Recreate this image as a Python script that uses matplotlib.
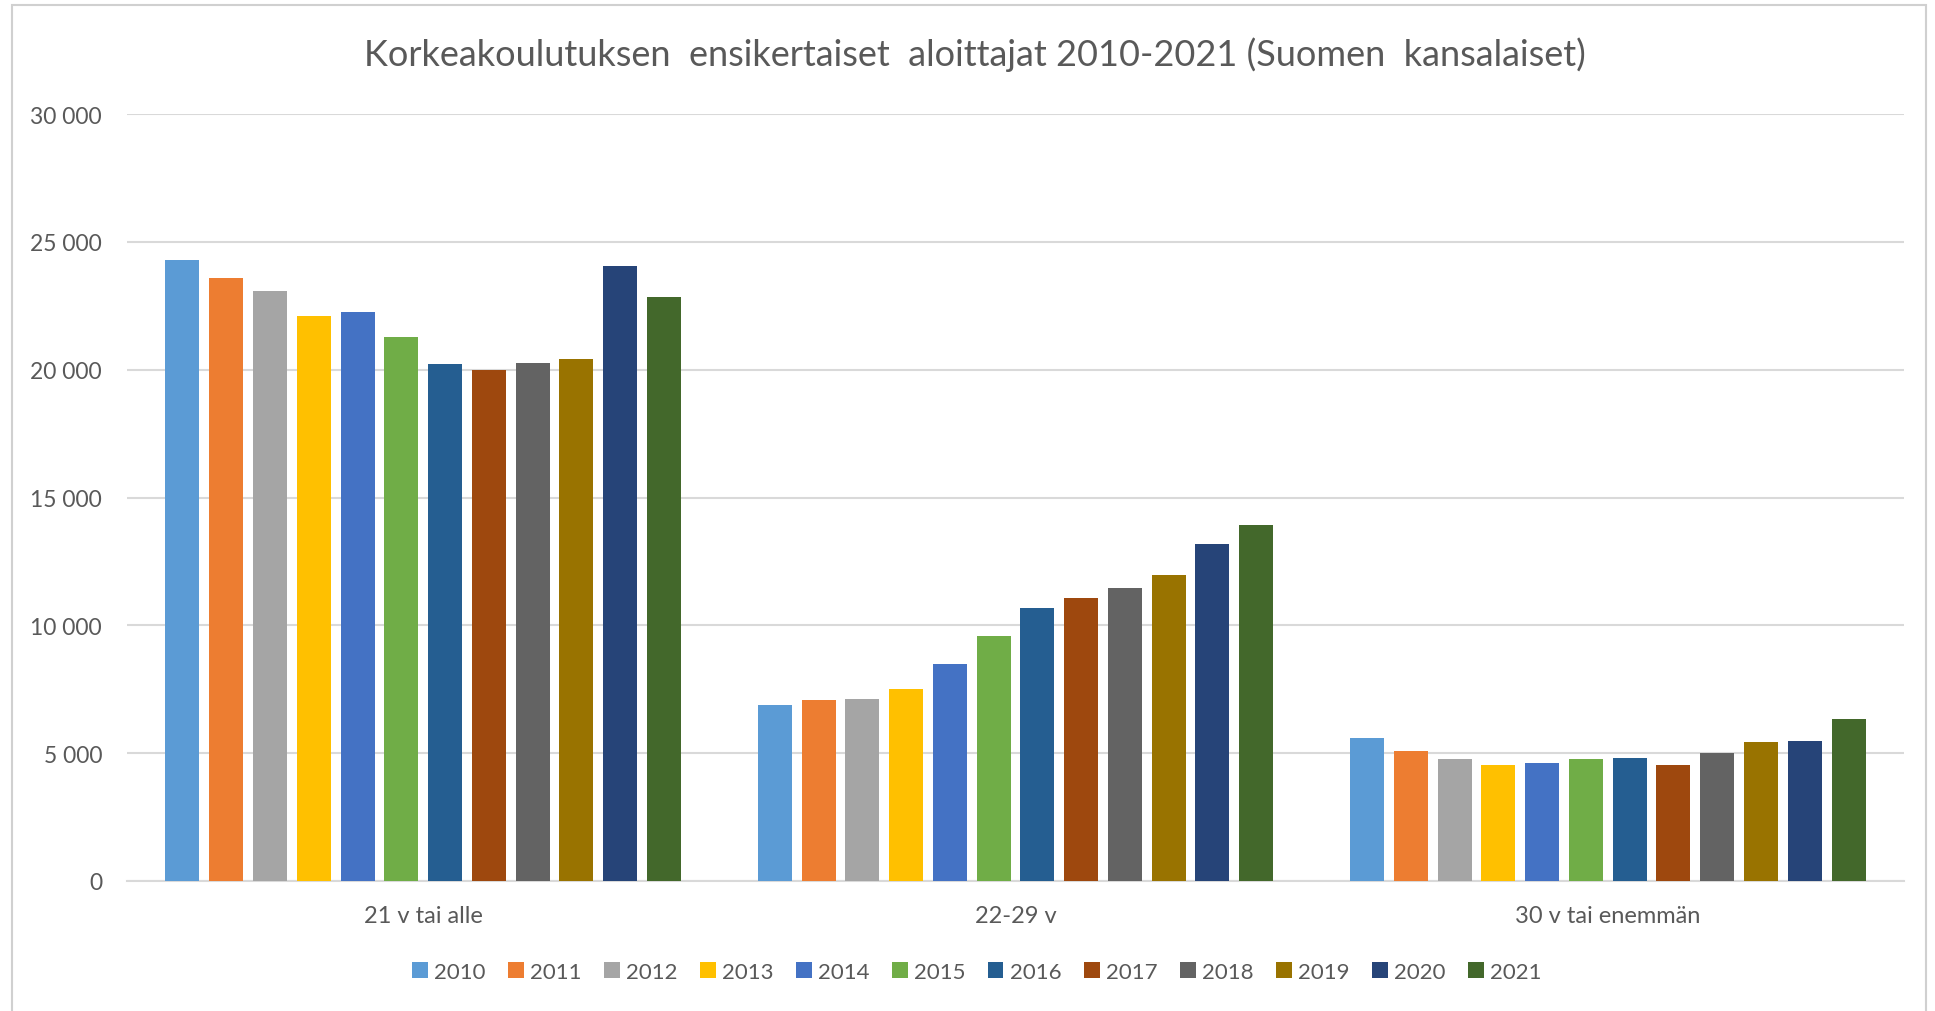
import numpy as np
import matplotlib
matplotlib.use("Agg")
import matplotlib.pyplot as plt
from matplotlib.patches import Rectangle

# data
groups = ["21 v tai alle", "22-29 v", "30 v tai enemmän"]
years = ["2010", "2011", "2012", "2013", "2014", "2015",
         "2016", "2017", "2018", "2019", "2020", "2021"]
under21 = [24270, 23570, 23080, 22080, 22250, 21260,
           20210, 20000, 20280, 20430, 24060, 22850]
age22_29 = [6890, 7060, 7120, 7510, 8500, 9600,
            10690, 11080, 11460, 11960, 13170, 13940]
over30 = [5590, 5090, 4770, 4540, 4610, 4770,
          4820, 4540, 4990, 5430, 5480, 6350]

colors = ["#5B9BD5", "#ED7D31", "#A5A5A5", "#FFC000", "#4472C4", "#70AD47",
          "#255E91", "#9E480E", "#636363", "#997300", "#264478", "#43682B"]

plt.rcParams['font.family'] = ['Lato', 'DejaVu Sans']
txt = '#595959'

W, H = 1935, 1012
fig = plt.figure(figsize=(W / 100, H / 100), dpi=100)

# light frame around the chart
fig.patches.append(Rectangle((12 / W, -0.05), (1926 - 12) / W, 1.05 - 6 / H,
                             transform=fig.transFigure, fill=False,
                             edgecolor='#D0D0D0', linewidth=1.5))

ax = fig.add_axes([127 / W, 130 / H, (1904 - 127) / W, (882 - 115) / H])

values = np.array([under21, age22_29, over30])
x = np.arange(len(groups))
step = 0.0739
bw = 0.0574
for i, yr in enumerate(years):
    ax.bar(x + (i - 5.5) * step, values[:, i], width=bw, color=colors[i], label=yr, zorder=3)

ax.set_xlim(-0.5, 2.5)
ax.set_ylim(0, 30000)
ax.set_yticks(np.arange(0, 30001, 5000))
ax.set_yticklabels(["0" if v == 0 else f"{v // 1000} {v % 1000:03d}" for v in range(0, 30001, 5000)])
ax.set_xticks(x)
ax.set_xticklabels(groups)
ax.tick_params(axis='both', length=0, colors=txt)
ax.tick_params(axis='y', pad=18, labelsize=16.5)
ax.tick_params(axis='x', pad=17, labelsize=17)
ax.yaxis.grid(True, color='#D9D9D9', linewidth=1.5, zorder=0)
for s in ['top', 'right', 'left']:
    ax.spines[s].set_visible(False)
ax.spines['bottom'].set_color('#D9D9D9')
ax.spines['bottom'].set_linewidth(1.5)

fig.text(975 / W, 1 - 55 / H,
         "Korkeakoulutuksen  ensikertaiset  aloittajat 2010-2021 (Suomen  kansalaiset)",
         ha='center', va='center', fontsize=26, color=txt)

fig.legend(loc='center', bbox_to_anchor=(977 / W, 1 - 973 / H), ncol=12, frameon=False,
           fontsize=16, handlelength=0.7, handleheight=0.7, handletextpad=0.3,
           columnspacing=1.0, labelcolor=txt)

fig.savefig("out.png", dpi=100, facecolor='white')
